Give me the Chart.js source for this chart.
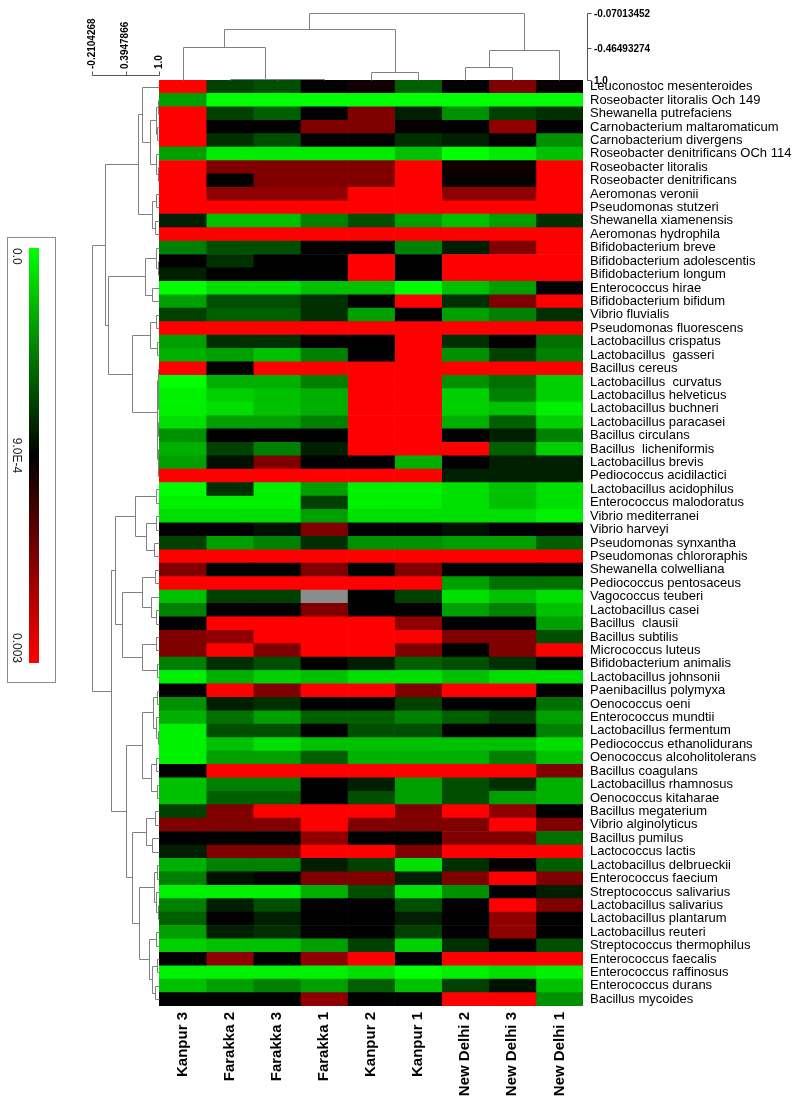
<!DOCTYPE html>
<html>
<head>
<meta charset="utf-8">
<script src="https://cdn.jsdelivr.net/npm/chart.js@4.4.1/dist/chart.umd.min.js"></script>
<style>
  body { margin: 0; background: #fff; }
  canvas { display: block; }
</style>
</head>
<body>
<canvas id="heat" width="800" height="1107"></canvas>
<script>
// sites (columns, in dendrogram order)
var sites = ["Kanpur 3", "Farakka 2", "Farakka 3", "Farakka 1", "Kanpur 2", "Kanpur 1", "New Delhi 2", "New Delhi 3", "New Delhi 1"];

var species = [
  "Leuconostoc mesenteroides", "Roseobacter litoralis Och 149", "Shewanella putrefaciens", "Carnobacterium maltaromaticum",
  "Carnobacterium divergens", "Roseobacter denitrificans OCh 114", "Roseobacter litoralis", "Roseobacter denitrificans",
  "Aeromonas veronii", "Pseudomonas stutzeri", "Shewanella xiamenensis", "Aeromonas hydrophila",
  "Bifidobacterium breve", "Bifidobacterium adolescentis", "Bifidobacterium longum", "Enterococcus hirae",
  "Bifidobacterium bifidum", "Vibrio fluvialis", "Pseudomonas fluorescens", "Lactobacillus crispatus",
  "Lactobacillus  gasseri", "Bacillus cereus", "Lactobacillus  curvatus", "Lactobacillus helveticus",
  "Lactobacillus buchneri", "Lactobacillus paracasei", "Bacillus circulans", "Bacillus  licheniformis",
  "Lactobacillus brevis", "Pediococcus acidilactici", "Lactobacillus acidophilus", "Enterococcus malodoratus",
  "Vibrio mediterranei", "Vibrio harveyi", "Pseudomonas synxantha", "Pseudomonas chlororaphis",
  "Shewanella colwelliana", "Pediococcus pentosaceus", "Vagococcus teuberi", "Lactobacillus casei",
  "Bacillus  clausii", "Bacillus subtilis", "Micrococcus luteus", "Bifidobacterium animalis",
  "Lactobacillus johnsonii", "Paenibacillus polymyxa", "Oenococcus oeni", "Enterococcus mundtii",
  "Lactobacillus fermentum", "Pediococcus ethanolidurans", "Oenococcus alcoholitolerans", "Bacillus coagulans",
  "Lactobacillus rhamnosus", "Oenococcus kitaharae", "Bacillus megaterium", "Vibrio alginolyticus",
  "Bacillus pumilus", "Lactococcus lactis", "Lactobacillus delbrueckii", "Enterococcus faecium",
  "Streptococcus salivarius", "Lactobacillus salivarius", "Lactobacillus plantarum", "Lactobacillus reuteri",
  "Streptococcus thermophilus", "Enterococcus faecalis", "Enterococcus raffinosus", "Enterococcus durans",
  "Bacillus mycoides"
];

// relative abundance per site, in units of 1e-4 (null = missing, grey cell)
var kanpur3 = [30, 3.4, 30, 30, 30, 3.4, 30, 30, 30, 30,
  7.9, 30, 4.5, 9, 7.9, 0, 3.4, 6.7, 30, 3.4,
  2.8, 30, 0, 0.5, 0.5, 1.1, 3.9, 2.8, 3.4, 30,
  0, 0.5, 1.1, 9, 6.7, 30, 19.5, 30, 2.2, 4.5,
  9, 19.5, 19.5, 4.5, 0.5, 9, 3.9, 2.8, 0.5, 0.5,
  0.5, 9, 2.2, 2.2, 6.7, 19.5, 9, 7.9, 2.8, 4.5,
  0.5, 4.5, 5.6, 3.4, 1.7, 9, 0.5, 2.2, 9];
var farakka2 = [6.7, 0, 6.7, 9, 7.3, 0.7, 19.5, 9, 20.9, 30,
  2.2, 30, 6.2, 7.3, 9, 1.1, 6.2, 5.6, 30, 7.3,
  3.4, 9, 2.8, 1.7, 1.1, 3.4, 9, 6.7, 8.4, 30,
  7.3, 0.5, 1.1, 9, 3.4, 30, 9, 30, 6.7, 9,
  30, 20.9, 30, 7.3, 2.8, 30, 7.9, 5, 6.2, 2.2,
  3.4, 30, 4.5, 5.6, 19.5, 19.5, 9, 19.5, 4.5, 8.4,
  0.5, 7.9, 9, 7.9, 2.2, 20.9, 0.5, 3.4, 9];
var farakka3 = [6.2, 0, 5.6, 9, 6.2, 0.7, 19.5, 19.5, 20.9, 30,
  2.2, 30, 6.2, 9, 9, 1.1, 6.2, 5.6, 30, 7.3,
  2.2, 30, 2.8, 2.2, 2.2, 3.4, 9, 4.5, 19.5, 30,
  0.5, 0.5, 1.1, 8.4, 4.5, 30, 9, 30, 6.7, 9,
  30, 30, 19.5, 6.2, 1.7, 19.5, 7.3, 3.4, 6.2, 1.1,
  3.4, 30, 4.5, 5.6, 30, 19.5, 9, 19.5, 4.5, 9,
  0.5, 6.2, 7.9, 7.3, 2.2, 9, 0.5, 4.5, 9];
var farakka1 = [9, 0, 9, 19.5, 9, 0.7, 19.5, 19.5, 20.9, 30,
  4.5, 30, 9, 9, 9, 2.2, 7.3, 7.3, 30, 9,
  4.5, 30, 4.5, 2.8, 2.8, 4.5, 9, 7.9, 9, 30,
  3.4, 6.7, 3.4, 19.5, 7.3, 30, 19.5, 30, null, 19.5,
  30, 30, 30, 9, 2.2, 30, 9, 5.6, 9, 2.2,
  5.6, 30, 9, 9, 30, 30, 20.9, 30, 7.9, 19.5,
  2.8, 9, 9, 9, 3.4, 20.9, 0.5, 3.4, 20.9];
var kanpur2 = [10.3, 0, 19.5, 19.5, 9, 0.7, 19.5, 19.5, 30, 30,
  6.2, 30, 9, 30, 30, 2.2, 9, 3.4, 30, 9,
  9, 30, 30, 30, 30, 30, 30, 30, 9, 30,
  0.5, 0.5, 1.1, 9, 3.9, 30, 9, 30, 9, 9,
  30, 30, 30, 7.9, 1.1, 30, 9, 5.6, 6.2, 2.2,
  2.8, 30, 7.9, 6.2, 30, 19.5, 9, 30, 6.7, 19.5,
  6.2, 9, 9, 9, 6.7, 30, 1.1, 5.6, 9];
var kanpur1 = [5.6, 0, 7.9, 9.5, 7.3, 2.2, 30, 30, 30, 30,
  3.4, 30, 4.5, 9, 9, 0, 30, 9, 30, 30,
  30, 30, 30, 30, 30, 30, 30, 30, 2.8, 30,
  0.5, 0.5, 1.1, 9, 3.9, 30, 19.5, 30, 6.7, 9,
  20.9, 30, 19.5, 5.6, 1.1, 19.5, 6.7, 4.5, 6.2, 2.2,
  2.8, 30, 3.4, 3.4, 19.5, 19.5, 9, 19.5, 1.1, 7.9,
  1.1, 6.2, 7.9, 6.7, 1.7, 9, 0, 2.2, 9];
var newDelhi2 = [9, 0, 3.9, 9, 7.9, 0, 10.3, 9.5, 20.9, 30,
  2.2, 30, 7.9, 30, 30, 2.2, 7.3, 3.4, 30, 7.3,
  3.9, 30, 3.9, 1.7, 1.7, 2.8, 9, 30, 9, 7.9,
  1.1, 1.1, 1.1, 8.4, 3.4, 30, 9, 3.4, 1.1, 3.4,
  9, 19.5, 9, 6.2, 2.2, 30, 9, 5.6, 9, 2.2,
  2.8, 30, 6.2, 6.2, 30, 19.5, 19.5, 30, 7.3, 19.5,
  3.9, 9, 9, 9, 7.3, 30, 0.5, 6.7, 30];
var newDelhi3 = [19.5, 0, 6.7, 20.9, 9, 0.7, 10.3, 9.5, 20.9, 30,
  3.4, 30, 19.5, 30, 30, 3.4, 19.5, 4.5, 30, 9,
  6.7, 30, 5, 4.5, 2.2, 5.6, 7.9, 5.6, 7.9, 7.9,
  2.2, 2.2, 1.1, 9, 3.4, 30, 9, 5, 2.2, 4.5,
  9, 19.5, 19.5, 7.3, 1.1, 30, 9, 6.7, 9, 2.2,
  4.5, 30, 7.3, 3.4, 20.9, 30, 19.5, 30, 9, 30,
  9, 30, 20.9, 20.9, 9, 30, 1.1, 8.4, 30];
var newDelhi1 = [9.5, 0, 7.3, 9, 3.9, 2.2, 30, 30, 30, 30,
  7.3, 30, 30, 30, 30, 9, 30, 7.3, 30, 5,
  4.5, 30, 1.7, 1.7, 0.5, 1.7, 4.5, 1.7, 7.9, 7.9,
  1.1, 1.1, 0.5, 9.5, 5.6, 30, 9, 5, 1.1, 2.2,
  3.4, 6.2, 30, 9, 1.1, 9.5, 5, 3.4, 4.5, 1.1,
  2.2, 19.5, 2.8, 2.8, 9, 19.5, 5, 30, 5.6, 19.5,
  7.9, 19.5, 9, 9, 6.2, 30, 0.5, 2.2, 3.9];

var siteValues = [kanpur3, farakka2, farakka3, farakka1, kanpur2, kanpur1, newDelhi2, newDelhi3, newDelhi1];

// colour key: green -> black -> red
var keyValues = [0, 9, 30];
var keyLabels = ["0.0", "9.0E-4", "0.003"];

// dendrograms: [height, left, right], leaves are indices
var siteTree = [1.0, [0.765, [0.49, 0, [0.012, 1, [0.008, 2, 3]]], [0.125, 4, 5]], [0.45, [0.2, 6, 7], 8]];
var siteTreeTicks = ["-0.07013452", "-0.46493274", "1.0"];

var speciesTree = [1.0,
  [0.81,
    [0.31,
      [0.25, 0, [0.13, [0.05, [0.02, 1, 2], [0.03, 3, 4]], [0.04, 5, [0.02, 6, 7]]]],
      [0.11, [0.04, 8, 9], [0.06, 10, 11]]],
    [0.76,
      [0.21, [0.04, 12, [0.02, 13, 14]], [0.1, 15, 16]],
      [0.41, [0.13, [0.05, 17, 18], [0.03, 19, 20]],
        [0.035, [0.02, 21, [0.015, 22, [0.01, 23, 24]]], [0.025, [0.012, 25, 26], [0.02, 27, [0.01, 28, 29]]]]]]],
  [0.71,
    [0.66,
      [0.36, [0.05, 30, 31], [0.2, [0.04, 32, 33], [0.08, 34, 35]]],
      [0.55, [0.26, [0.06, 36, 37], [0.12, 38, [0.04, 39, 40]]], [0.25, [0.05, 41, 42], [0.03, 43, 44]]]],
    [0.49,
      [0.25, [0.09, [0.03, 45, 46], [0.04, 47, [0.02, 48, 49]]], [0.12, [0.05, 50, 51], [0.03, 52, 53]]],
      [0.4, [0.2, [0.06, 54, 55], [0.1, 56, 57]],
        [0.3, [0.08, [0.03, 58, 59], [0.04, 60, [0.02, 61, 62]]], [0.15, [0.05, 63, 64], [0.1, [0.03, 65, 66], [0.06, 67, 68]]]]]]]];
var speciesTreeTicks = ["-0.2104268", "0.3947866", "1.0"];

function cellColor(v) {
  if (v === null) return "#8c8c8c";
  var mid = keyValues[1], max = keyValues[2];
  if (v <= mid) {
    return "rgb(0," + Math.round(255 * (1 - v / mid)) + ",0)";
  }
  return "rgb(" + Math.round(255 * Math.min(1, (v - mid) / (max - mid))) + ",0,0)";
}

var TREE_W = 67;   // width of row dendrogram
var TREE_H = 67;   // height of column dendrogram

function seg(ctx, x1, y1, x2, y2) {
  ctx.beginPath();
  ctx.moveTo(Math.round(x1) + 0.5, Math.round(y1) + 0.5);
  ctx.lineTo(Math.round(x2) + 0.5, Math.round(y2) + 0.5);
  ctx.stroke();
}

var extras = {
  id: "extras",
  afterDraw: function(chart) {
    var ctx = chart.ctx, area = chart.chartArea;
    var ys = chart.scales.y, xs = chart.scales.x;
    ctx.save();
    ctx.strokeStyle = "#808080";
    ctx.lineWidth = 1;

    // row dendrogram
    var rx = function(h) { return area.left - h * TREE_W; };
    var walkRows = function(node) {
      if (typeof node === "number") return { p: ys.getPixelForValue(node), h: 0 };
      var a = walkRows(node[1]), b = walkRows(node[2]), x = rx(node[0]);
      seg(ctx, x, a.p, x, b.p);
      seg(ctx, x, a.p, rx(a.h), a.p);
      seg(ctx, x, b.p, rx(b.h), b.p);
      return { p: (a.p + b.p) / 2, h: node[0] };
    };
    walkRows(speciesTree);

    // column dendrogram
    var cy = function(h) { return area.top - h * TREE_H; };
    var walkCols = function(node) {
      if (typeof node === "number") return { p: xs.getPixelForValue(node + 0.5), h: 0 };
      var a = walkCols(node[1]), b = walkCols(node[2]), y = cy(node[0]);
      seg(ctx, a.p, y, b.p, y);
      seg(ctx, a.p, y, a.p, cy(a.h));
      seg(ctx, b.p, y, b.p, cy(b.h));
      return { p: (a.p + b.p) / 2, h: node[0] };
    };
    walkCols(siteTree);

    // height axes of the two trees
    ctx.strokeStyle = "#555";
    ctx.fillStyle = "#000";
    ctx.font = "bold 10px Arial, 'Liberation Sans', sans-serif";
    var hs = [1, 0.5, 0];
    var axY = area.top - 5;
    seg(ctx, rx(1), axY, rx(0), axY);
    hs.forEach(function(h, i) {
      seg(ctx, rx(h), axY, rx(h), axY - 4);
      ctx.save();
      ctx.translate(rx(h), axY - 6);
      ctx.rotate(-Math.PI / 2);
      ctx.textAlign = "left";
      ctx.textBaseline = "middle";
      ctx.fillText(speciesTreeTicks[i], 0, 0);
      ctx.restore();
    });
    var axX = area.right + 4;
    var colHs = [1, 0.48, 0];
    seg(ctx, axX, cy(1), axX, cy(0));
    colHs.forEach(function(h, i) {
      seg(ctx, axX, cy(h), axX + 4, cy(h));
      ctx.textAlign = "left";
      ctx.textBaseline = "middle";
      ctx.fillText(siteTreeTicks[i], axX + 7, cy(h) + 1);
    });

    // colour key
    var box = { x: 7, y: 237, w: 48, h: 445 };
    var bar = { x: 29, y: 248, w: 10, h: 415 };
    ctx.strokeStyle = "#8a8a8a";
    ctx.strokeRect(box.x + 0.5, box.y + 0.5, box.w, box.h);
    var grad = ctx.createLinearGradient(0, bar.y, 0, bar.y + bar.h);
    grad.addColorStop(0, cellColor(keyValues[0]));
    grad.addColorStop(0.5, cellColor(keyValues[1]));
    grad.addColorStop(1, cellColor(keyValues[2]));
    ctx.fillStyle = grad;
    ctx.fillRect(bar.x, bar.y, bar.w, bar.h);
    ctx.fillStyle = "#222";
    ctx.font = "12px Arial, 'Liberation Sans', sans-serif";
    var keyPos = [0, 0.5, 1];
    var aligns = ["left", "center", "right"];
    keyLabels.forEach(function(t, i) {
      ctx.save();
      ctx.translate(16, bar.y + keyPos[i] * bar.h);
      ctx.rotate(Math.PI / 2);
      ctx.textAlign = aligns[i];
      ctx.textBaseline = "middle";
      ctx.fillText(t, 0, 0);
      ctx.restore();
    });
    ctx.restore();
  }
};

Chart.defaults.font.family = "Arial, 'Liberation Sans', sans-serif";

var datasets = sites.map(function(name, j) {
  return {
    label: name,
    data: species.map(function() { return [j, j + 1]; }),
    backgroundColor: siteValues[j].map(cellColor),
    borderWidth: 0,
    grouped: false,
    barPercentage: 1,
    categoryPercentage: 1
  };
});

new Chart(document.getElementById("heat").getContext("2d"), {
  type: "bar",
  data: { labels: species, datasets: datasets },
  options: {
    indexAxis: "y",
    responsive: false,
    animation: false,
    devicePixelRatio: 1,
    layout: { padding: { left: 159, top: 80, right: 0, bottom: 0 } },
    plugins: { legend: { display: false }, tooltip: { enabled: false } },
    scales: {
      x: { type: "linear", min: 0, max: 9, display: false },
      x2: {
        type: "category", axis: "x", labels: sites, position: "bottom", offset: true,
        grid: { display: false, drawTicks: false }, border: { display: false },
        ticks: { autoSkip: false, minRotation: 90, maxRotation: 90, padding: 6, color: "#000", font: { size: 15, weight: "bold" } },
        afterFit: function(s) { s.height = 101; }
      },
      y: {
        type: "category", position: "right", offset: true,
        grid: { display: false, drawTicks: false }, border: { display: false },
        ticks: { autoSkip: false, padding: 7, color: "#000", font: { size: 13 } },
        afterFit: function(s) { s.width = 217; }
      }
    }
  },
  plugins: [extras]
});
</script>
</body>
</html>
